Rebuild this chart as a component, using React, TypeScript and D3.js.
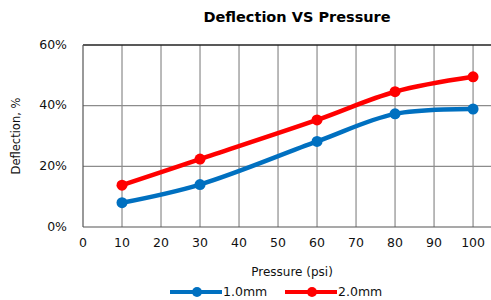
import * as d3 from 'd3';

const pressures = [10, 30, 60, 80, 100];
const series1mm = [8.0, 14.0, 28.2, 37.3, 38.9];
const series2mm = [13.8, 22.4, 35.3, 44.6, 49.5];
const xTicks = [0, 10, 20, 30, 40, 50, 60, 70, 80, 90, 100];
const yTicks = [0, 20, 40, 60];

const seriesList = [
  { name: '1.0mm', values: series1mm, color: '#0070C0' },
  { name: '2.0mm', values: series2mm, color: '#FF0000' },
];

const W = 491;
const H = 300;
const margin = { top: 45, right: 0, bottom: 73, left: 83 };
const font = '"DejaVu Sans", Verdana, sans-serif';

export default function App() {
  const innerW = W - margin.left - margin.right;
  const innerH = H - margin.top - margin.bottom;

  const x = d3.scaleLinear().domain([0, 104.6]).range([0, innerW]);
  const y = d3.scaleLinear().domain([0, 60]).range([innerH, 0]);

  const line = d3
    .line<number>()
    .x((_, i) => x(pressures[i]))
    .y((d) => y(d))
    .curve(d3.curveCatmullRom.alpha(0.5));

  return (
    <svg
      width={W}
      height={H}
      style={{ position: 'absolute', left: 0, top: 0, background: '#fff' }}
    >
      <text
        x={297}
        y={22}
        textAnchor="middle"
        fontFamily={font}
        fontWeight="bold"
        fontSize={14.5}
        fill="#000"
      >
        Deflection VS Pressure
      </text>

      <g transform={`translate(${margin.left},${margin.top})`}>
        {/* grid */}
        {xTicks.slice(1).map((t) => (
          <line
            key={`xg-${t}`}
            x1={x(t)}
            x2={x(t)}
            y1={0}
            y2={innerH}
            stroke="#8c8c8c"
            strokeWidth={1.2}
          />
        ))}
        {yTicks.slice(1, -1).map((t) => (
          <line
            key={`yg-${t}`}
            x1={0}
            x2={innerW}
            y1={y(t)}
            y2={y(t)}
            stroke="#8c8c8c"
            strokeWidth={1.2}
          />
        ))}
        {/* frame */}
        <line x1={0} x2={innerW} y1={0} y2={0} stroke="#222" strokeWidth={1.5} />
        <line x1={0} x2={innerW} y1={innerH} y2={innerH} stroke="#555" strokeWidth={1.2} />
        <line x1={0} x2={0} y1={0} y2={innerH} stroke="#555" strokeWidth={1.2} />

        {/* series */}
        {seriesList.map((s) => (
          <g key={s.name}>
            <path
              d={line(s.values) || ''}
              fill="none"
              stroke={s.color}
              strokeWidth={4.5}
              strokeLinejoin="round"
            />
            {s.values.map((v, i) => (
              <circle
                key={i}
                cx={x(pressures[i])}
                cy={y(v)}
                r={5.5}
                fill={s.color}
              />
            ))}
          </g>
        ))}

        {/* y ticks */}
        {yTicks.map((t) => (
          <text
            key={`yt-${t}`}
            x={-16}
            y={y(t)}
            textAnchor="end"
            dominantBaseline="middle"
            fontFamily={font}
            fontSize={12.5}
            fill="#111"
          >
            {`${t}%`}
          </text>
        ))}

        {/* x ticks */}
        {xTicks.map((t) => (
          <text
            key={`xt-${t}`}
            x={x(t)}
            y={innerH + 20}
            textAnchor="middle"
            fontFamily={font}
            fontSize={12.5}
            fill="#111"
          >
            {t}
          </text>
        ))}

        <text
          transform={`translate(-63,${innerH / 2}) rotate(-90)`}
          textAnchor="middle"
          fontFamily={font}
          fontSize={11.5}
          fill="#111"
        >
          Deflection, %
        </text>
      </g>

      <text
        x={292}
        y={276}
        textAnchor="middle"
        fontFamily={font}
        fontSize={12}
        fill="#111"
      >
        Pressure (psi)
      </text>

      {/* legend */}
      {seriesList.map((s, i) => {
        const lx = 170 + i * 115;
        return (
          <g key={`lg-${s.name}`} transform={`translate(${lx},292)`}>
            <line x1={0} x2={52} y1={0} y2={0} stroke={s.color} strokeWidth={4} />
            <circle cx={27} cy={0} r={5} fill={s.color} />
            <text
              x={53}
              y={0}
              dominantBaseline="middle"
              fontFamily={font}
              fontSize={12.5}
              fill="#111"
            >
              {s.name}
            </text>
          </g>
        );
      })}
    </svg>
  );
}
